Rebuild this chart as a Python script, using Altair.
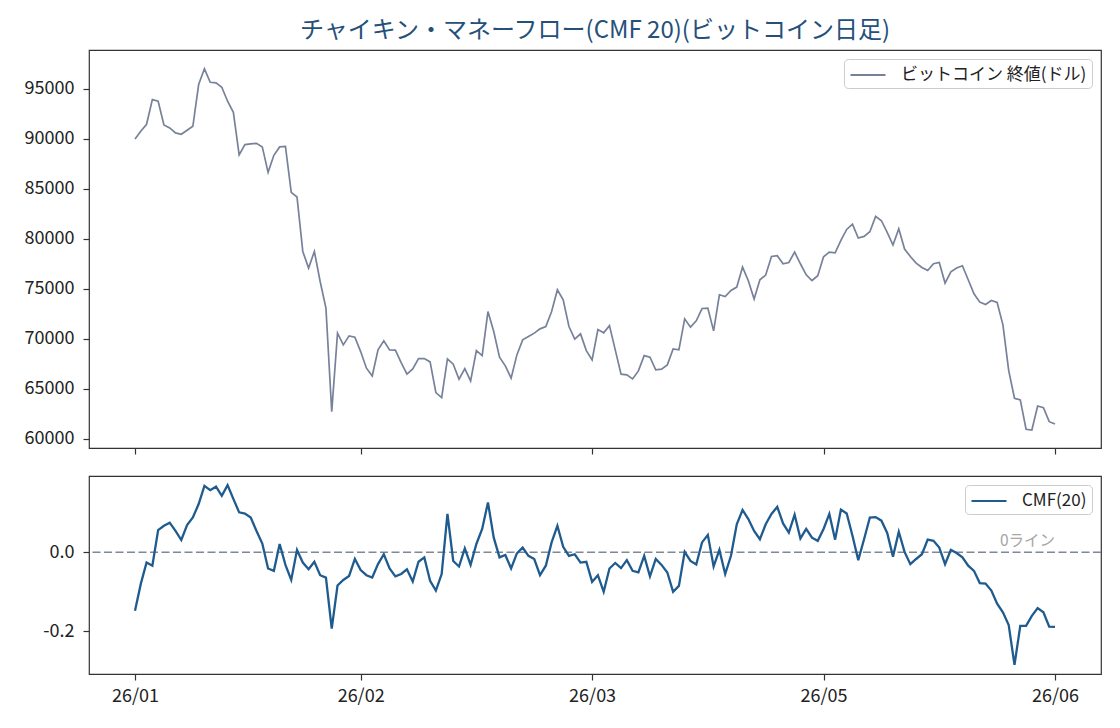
import json

import altair as alt
import pandas as pd

# closing price (USD), one value per trading day
price = [
    89970, 90730, 91430, 93900, 93730, 91370, 91070, 90570, 90430, 90830,
    91230, 95400, 96970, 95630, 95570, 95130, 93730, 92630, 88370, 89400,
    89470, 89530, 89170, 86630, 88330, 89170, 89230, 84630, 84170, 78730,
    77070, 78730, 75730, 73070, 62730, 70570, 69400, 70300, 70170, 68730,
    67070, 66300, 68900, 69800, 68900, 68870, 67630, 66470, 67000, 68030,
    68030, 67700, 64630, 64130, 68000, 67470, 65970, 67030, 65800, 68830,
    68330, 72730, 70730, 68170, 67300, 66070, 68400, 69900, 70230, 70570,
    71000, 71230, 72730, 74900, 73900, 71230, 69970, 70500, 68830, 67900,
    70930, 70600, 71320, 68900, 66470, 66400, 66000, 66800, 68330, 68170,
    66900, 66970, 67400, 69000, 68900, 72000, 71170, 71800, 73030, 73070,
    70800, 74400, 74230, 74830, 75170, 77170, 75800, 73970, 75900, 76370,
    78230, 78300, 77500, 77630, 78670, 77500, 76400, 75830, 76300, 78200,
    78670, 78600, 79830, 80930, 81450, 80070, 80230, 80700, 82230, 81800,
    80630, 79370, 81000, 78970, 78230, 77570, 77130, 76830, 77500, 77630,
    75570, 76700, 77070, 77300, 75900, 74500, 73670, 73430, 73830, 73630,
    71400, 66830, 64070, 63900, 60970, 60900, 63300, 63130, 61730, 61500,
]

# Chaikin money flow, 20 periods
cmf = [
    -0.148, -0.080, -0.026, -0.034, 0.056, 0.067, 0.075, 0.054, 0.031, 0.069,
    0.088, 0.122, 0.168, 0.157, 0.166, 0.143, 0.170, 0.135, 0.101, 0.098,
    0.088, 0.054, 0.022, -0.041, -0.047, 0.021, -0.032, -0.070, 0.006, -0.026,
    -0.043, -0.024, -0.058, -0.064, -0.193, -0.084, -0.070, -0.060, -0.017, -0.045,
    -0.058, -0.064, -0.030, -0.005, -0.041, -0.061, -0.055, -0.043, -0.074, -0.024,
    -0.013, -0.072, -0.097, -0.055, 0.097, -0.022, -0.036, 0.010, -0.032, 0.021,
    0.059, 0.126, 0.037, -0.013, -0.007, -0.041, -0.003, 0.012, -0.009, -0.017,
    -0.058, -0.034, 0.025, 0.067, 0.014, -0.009, -0.005, -0.026, -0.024, -0.075,
    -0.058, -0.100, -0.041, -0.027, -0.040, -0.020, -0.047, -0.051, -0.009, -0.061,
    -0.017, -0.032, -0.051, -0.100, -0.085, 0.001, -0.022, -0.031, 0.025, 0.044,
    -0.036, 0.006, -0.055, -0.009, 0.071, 0.107, 0.084, 0.054, 0.033, 0.071,
    0.097, 0.115, 0.073, 0.050, 0.095, 0.035, 0.059, 0.037, 0.029, 0.059,
    0.097, 0.032, 0.108, 0.098, 0.042, -0.020, 0.033, 0.088, 0.089, 0.080,
    0.049, -0.011, 0.052, 0.001, -0.030, -0.017, -0.005, 0.032, 0.029, 0.012,
    -0.030, 0.006, -0.002, -0.013, -0.034, -0.047, -0.078, -0.079, -0.097, -0.130,
    -0.152, -0.184, -0.285, -0.186, -0.186, -0.161, -0.141, -0.152, -0.188, -0.189,
]

tick_idx = [0, 39, 79, 119, 159]
tick_labels = ["26/01", "26/02", "26/03", "26/05", "26/06"]
price_ticks = [60000, 65000, 70000, 75000, 80000, 85000, 90000, 95000]
cmf_ticks = [-0.2, 0.0]

price_name = "ビットコイン 終値(ドル)"
cmf_name = "CMF(20)"
title = "チャイキン・マネーフロー(CMF 20)(ビットコイン日足)"
zero_label = "0ライン"

FONT = "Noto Sans CJK JP"
W = 1012

df = pd.DataFrame({
    "idx": list(range(len(price))),
    "price": price,
    "cmf": cmf,
    "s1": price_name,
    "s2": cmf_name,
})
zero_df = pd.DataFrame({"y": [0.0], "x": [tick_idx[-1]], "label": [zero_label]})

x_scale = alt.Scale(domain=[-7.95, 166.95], nice=False, zero=False)
label_expr = "{}[indexof({}, datum.value)]".format(
    json.dumps(tick_labels), json.dumps(tick_idx)
)


def legend():
    # wide line sample drawn with a custom path so the row stays short
    return alt.Legend(
        title=None, orient="top-right", offset=9,
        symbolType="M-1.75,0H1.75", symbolSize=400, symbolStrokeWidth=2,
        symbolOffset=8, labelOffset=22, labelLimit=0,
        labelFont=FONT, labelFontSize=17, labelColor="#222",
        padding=5, cornerRadius=4,
        strokeColor="#cccccc", fillColor="white",
    )


top = alt.Chart(df).mark_line(strokeWidth=1.7).encode(
    x=alt.X("idx:Q", scale=x_scale,
            axis=alt.Axis(values=tick_idx, labels=False, title=None)),
    y=alt.Y("price:Q",
            scale=alt.Scale(domain=[59100, 98850], nice=False, zero=False),
            axis=alt.Axis(values=price_ticks, format="d", title=None,
                          labelPadding=9, minExtent=66, maxExtent=66)),
    color=alt.Color("s1:N", scale=alt.Scale(domain=[price_name], range=["#77829a"]),
                    legend=legend()),
).properties(
    width=W, height=398,
    title=alt.Title(title, font=FONT, fontSize=24, fontWeight="normal",
                    color="#25507a", anchor="middle", frame="group", offset=7),
)

cmf_line = alt.Chart(df).mark_line(strokeWidth=2.3).encode(
    x=alt.X("idx:Q", scale=x_scale,
            axis=alt.Axis(values=tick_idx, labelExpr=label_expr, title=None)),
    y=alt.Y("cmf:Q",
            scale=alt.Scale(domain=[-0.308, 0.193], nice=False, zero=False),
            axis=alt.Axis(values=cmf_ticks, title=None, labelPadding=9,
                          minExtent=66, maxExtent=66,
                          labelExpr="replace(format(datum.value, '.1f'), '\u2212', '-')")),
    color=alt.Color("s2:N", scale=alt.Scale(domain=[cmf_name], range=["#1f5b8e"]),
                    legend=legend()),
)

zero = alt.Chart(zero_df).mark_rule(
    color="#7f8896", strokeWidth=1.6, strokeDash=[8, 3.5]
).encode(y="y:Q")

zero_text = alt.Chart(zero_df).mark_text(
    align="right", baseline="bottom", dy=-3,
    font=FONT, fontSize=15.5, color="#a6a6a6",
).encode(x="x:Q", y="y:Q", text="label:N")

bottom = alt.layer(zero, cmf_line, zero_text).properties(width=W, height=198)

chart = alt.vconcat(top, bottom, spacing=19).resolve_scale(
    color="independent"
).resolve_legend(
    color="independent"
).properties(
    padding={"left": 14, "top": 10, "right": 5, "bottom": 5}
).configure_view(
    stroke="#333333", strokeWidth=1.2
).configure_axis(
    domain=False, grid=False, tickSize=6, tickColor="#333333", tickWidth=1.2,
    labelPadding=7, labelFont=FONT, labelFontSize=18, labelColor="#222222",
)

chart.save("out.html", embed_options={"renderer": "svg", "actions": False})
